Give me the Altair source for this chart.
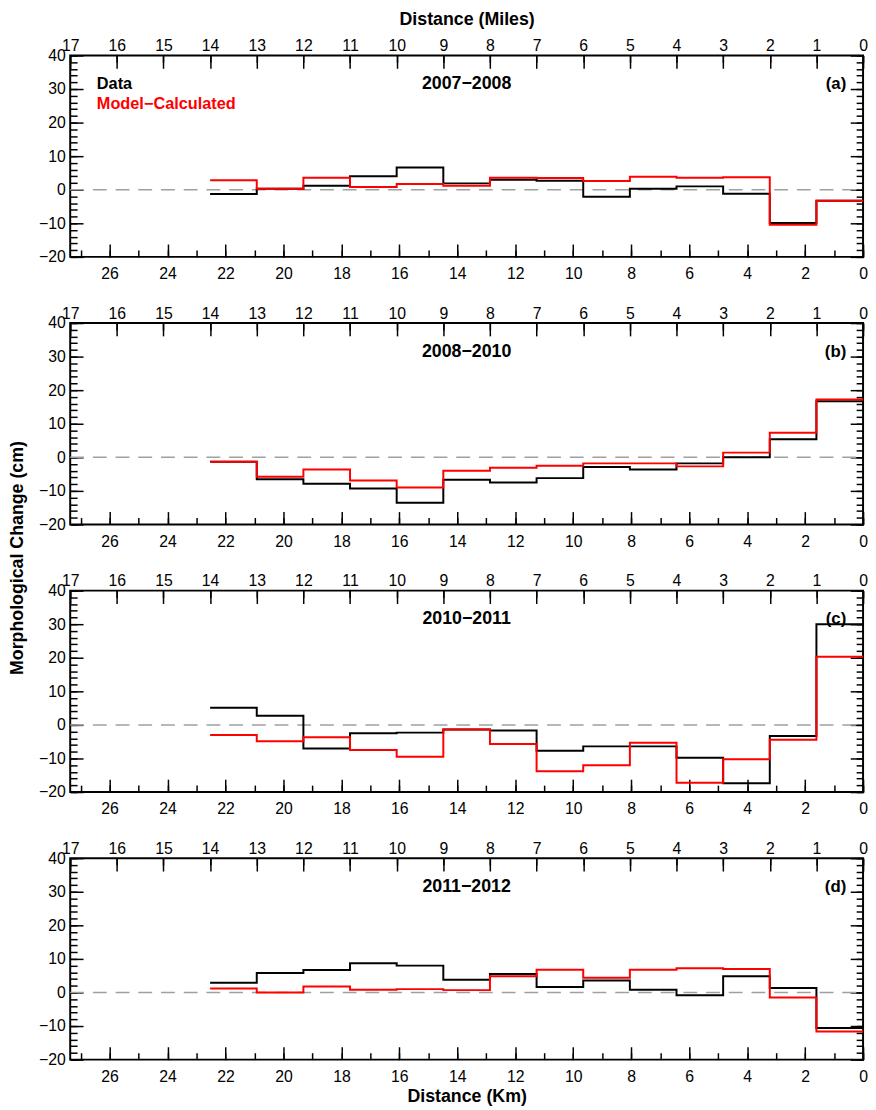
import altair as alt
import pandas as pd

MI_TO_KM = 1.609344
MILES_MAX = 17
KM_MAX = MILES_MAX * MI_TO_KM

# each bin spans from this mile marker down to the next one (mile m -> m-1)
bin_upper_miles = [14, 13, 12, 11, 10, 9, 8, 7, 6, 5, 4, 3, 2, 1]

periods = ["2007\u22122008", "2008\u22122010", "2010\u22122011", "2011\u22122012"]
tags = ["(a)", "(b)", "(c)", "(d)"]
legend_labels = ["Data", "Model\u2212Calculated"]

data_0708 = [-1.3, 0.3, 1.2, 4.0, 6.6, 1.9, 3.0, 2.7, -2.1, 0.3, 1.0, -1.2, -9.9, -3.3]
model_0708 = [2.8, 0.3, 3.6, 0.8, 1.7, 1.2, 3.6, 3.5, 2.6, 3.9, 3.6, 3.7, -10.4, -3.3]
data_0810 = [-1.3, -6.5, -7.9, -9.3, -13.5, -6.7, -7.5, -6.2, -2.9, -3.6, -1.8, 0.0, 5.4, 16.7]
model_0810 = [-1.3, -5.8, -3.6, -6.9, -9.0, -4.0, -3.1, -2.5, -1.8, -1.8, -2.7, 1.4, 7.3, 17.2]
data_1011 = [5.1, 2.7, -7.0, -2.5, -2.3, -1.4, -1.7, -7.7, -6.4, -6.4, -9.8, -17.4, -3.3, 30.0]
model_1011 = [-3.0, -4.9, -3.7, -7.5, -9.5, -1.4, -5.7, -13.8, -12.0, -5.3, -17.2, -10.2, -4.4, 20.3]
data_1112 = [2.9, 5.8, 6.7, 8.7, 8.0, 3.8, 5.5, 1.6, 3.6, 0.8, -0.8, 4.8, 1.3, -10.6]
model_1112 = [1.2, 0.0, 1.8, 0.8, 1.0, 0.7, 4.8, 6.8, 4.4, 6.8, 7.2, 7.0, -1.5, -11.6]

series = [
    (data_0708, model_0708),
    (data_0810, model_0810),
    (data_1011, model_1011),
    (data_1112, model_1112),
]

km_major = list(range(0, 27, 2))
km_minor = [k * 0.5 for k in range(0, 55)]
mi_major = list(range(0, 18))
mi_minor = [k * 0.25 for k in range(0, 69)]
y_major = list(range(-20, 41, 10))
y_minor = list(range(-20, 41, 2))

W = 803
H = 204
FONT = "Liberation Sans"
MAJ = 13
MIN = 7


def steps(vals):
    rows = []
    for i, (m, v) in enumerate(zip(bin_upper_miles, vals)):
        rows.append({"km": m * MI_TO_KM, "cm": v, "idx": 2 * i})
        rows.append({"km": (m - 1) * MI_TO_KM, "cm": v, "idx": 2 * i + 1})
    return pd.DataFrame(rows)


km_scale = alt.Scale(domain=[KM_MAX, 0], nice=False, zero=False)
mi_scale = alt.Scale(domain=[MILES_MAX, 0], nice=False, zero=False)
y_scale = alt.Scale(domain=[-20, 40], nice=False, zero=False)


def ax(orient, values, size, labels=False, title=None, pad=0, tpad=0):
    kw = dict(orient=orient, values=values, tickSize=size, offset=-size,
              domain=False, grid=False, labels=labels, labelFlush=False,
              labelPadding=pad, format="d", labelOverlap=False,
              labelFont=FONT, labelFontSize=16, labelColor="black",
              tickColor="black", tickWidth=1.5)
    if title:
        kw.update(title=title, titlePadding=tpad, titleFont=FONT, titleFontSize=18,
                  titleFontWeight="bold", titleColor="black")
    else:
        kw.update(title=None)
    return alt.Axis(**kw)


def panel(i):
    dvals, mvals = series[i]
    zero_df = pd.DataFrame({"km": [KM_MAX, 0.0], "cm": [0.0, 0.0]})
    mi_df = pd.DataFrame({"mi": [float(MILES_MAX), 0.0], "cm": [0.0, 0.0]})

    zero = alt.Chart(zero_df).mark_line(color="#a0a0a0", strokeDash=[14, 9], strokeWidth=1.5).encode(
        x=alt.X("km:Q", scale=km_scale, axis=ax("bottom", km_minor, MIN)),
        y=alt.Y("cm:Q", scale=y_scale, axis=ax("left", y_minor, MIN)),
    )
    black = alt.Chart(steps(dvals)).mark_line(color="black", strokeWidth=2).encode(
        x=alt.X("km:Q", scale=km_scale,
                axis=ax("bottom", km_major, MAJ, labels=True, pad=9,
                        title="Distance (Km)" if i == 3 else None, tpad=3)),
        y=alt.Y("cm:Q", scale=y_scale, axis=ax("left", y_major, MAJ, labels=True, pad=5)),
        order="idx:Q",
    )
    red = alt.Chart(steps(mvals)).mark_line(color="red", strokeWidth=2).encode(
        x=alt.X("km:Q", scale=km_scale, axis=None),
        y=alt.Y("cm:Q", scale=y_scale, axis=None),
        order="idx:Q",
    )
    mi1 = alt.Chart(mi_df).mark_point(opacity=0).encode(
        x=alt.X("mi:Q", scale=mi_scale,
                axis=ax("top", mi_major, MAJ, labels=True, pad=2,
                        title="Distance (Miles)" if i == 0 else None, tpad=9)),
        y=alt.Y("cm:Q", scale=y_scale, axis=ax("right", y_major, MAJ)),
    )
    mi2 = alt.Chart(mi_df).mark_point(opacity=0).encode(
        x=alt.X("mi:Q", scale=mi_scale, axis=ax("top", mi_minor, MIN)),
        y=alt.Y("cm:Q", scale=y_scale, axis=ax("right", y_minor, MIN)),
    )
    one = pd.DataFrame({"k": [0]})
    title_t = alt.Chart(one).mark_text(text=periods[i], font=FONT, fontSize=18, fontWeight="bold",
                                       align="center", baseline="alphabetic", color="black").encode(
        x=alt.value(W / 2), y=alt.value(34))
    tag_t = alt.Chart(one).mark_text(text=tags[i], font=FONT, fontSize=17, fontWeight="bold",
                                     align="right", baseline="alphabetic", color="black").encode(
        x=alt.value(W - 17), y=alt.value(34))
    layers = [zero, black, red, mi1, mi2, title_t, tag_t]
    if i == 0:
        leg1 = alt.Chart(one).mark_text(text=legend_labels[0], font=FONT, fontSize=16.5, fontWeight="bold",
                                        align="left", baseline="alphabetic", color="black").encode(
            x=alt.value(27), y=alt.value(34))
        leg2 = alt.Chart(one).mark_text(text=legend_labels[1], font=FONT, fontSize=16.5, fontWeight="bold",
                                        align="left", baseline="alphabetic", color="red").encode(
            x=alt.value(27), y=alt.value(54))
        layers += [leg1, leg2]
    return alt.layer(*layers).resolve_scale(x="independent").resolve_axis(
        x="independent", y="independent").properties(width=W, height=H)


chart = alt.vconcat(*[panel(i) for i in range(4)], spacing=67, bounds="flush").properties(
    padding={"top": -5, "left": 0, "right": -1, "bottom": 0},
    background="white",
    title=alt.TitleParams("Morphological Change (cm)", orient="left", anchor="middle",
                          font=FONT, fontSize=18, fontWeight="bold", color="black", offset=11),
).configure_view(stroke="black", strokeWidth=2)

chart.save("out.html", embed_options={"renderer": "svg", "actions": False})
